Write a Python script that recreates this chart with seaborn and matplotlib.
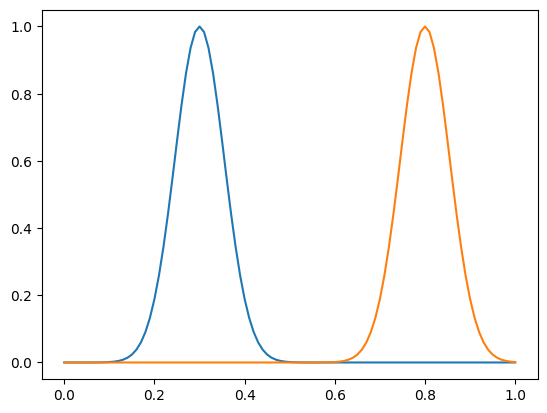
import numpy as np
import matplotlib
matplotlib.use('Agg')
import matplotlib.pyplot as plt
import seaborn as sns

# sample grid, step 0.01
x = np.linspace(0, 1, 101)

# first peak (around 0.3)
peak_a = [0, 0, 0, 0, 0, 0, 0, 0.0001, 0.0003, 0.0006,
          0.0013, 0.0024, 0.0045, 0.0081, 0.0140, 0.0235, 0.0381, 0.0598, 0.0907, 0.1331,
          0.1889, 0.2592, 0.3442, 0.4419, 0.5488, 0.6592, 0.7659, 0.8607, 0.9355, 0.9835,
          1.0, 0.9835, 0.9355, 0.8607, 0.7659, 0.6592, 0.5488, 0.4419, 0.3442, 0.2592,
          0.1889, 0.1331, 0.0907, 0.0598, 0.0381, 0.0235, 0.0140, 0.0081, 0.0045, 0.0024,
          0.0013, 0.0006, 0.0003, 0.0001, 0, 0, 0, 0, 0, 0,
          0, 0, 0, 0, 0, 0, 0, 0, 0, 0,
          0, 0, 0, 0, 0, 0, 0, 0, 0, 0,
          0, 0, 0, 0, 0, 0, 0, 0, 0, 0,
          0, 0, 0, 0, 0, 0, 0, 0, 0, 0,
          0]

# second peak (around 0.8)
peak_b = [0, 0, 0, 0, 0, 0, 0, 0, 0, 0,
          0, 0, 0, 0, 0, 0, 0, 0, 0, 0,
          0, 0, 0, 0, 0, 0, 0, 0, 0, 0,
          0, 0, 0, 0, 0, 0, 0, 0, 0, 0,
          0, 0, 0, 0, 0, 0, 0, 0, 0, 0,
          0, 0, 0, 0, 0, 0, 0, 0.0001, 0.0003, 0.0006,
          0.0013, 0.0024, 0.0045, 0.0081, 0.0140, 0.0235, 0.0381, 0.0598, 0.0907, 0.1331,
          0.1889, 0.2592, 0.3442, 0.4419, 0.5488, 0.6592, 0.7659, 0.8607, 0.9355, 0.9835,
          1.0, 0.9835, 0.9355, 0.8607, 0.7659, 0.6592, 0.5488, 0.4419, 0.3442, 0.2592,
          0.1889, 0.1331, 0.0907, 0.0598, 0.0381, 0.0235, 0.0140, 0.0081, 0.0045, 0.0024,
          0.0013]

fig, ax = plt.subplots(figsize=(6.4, 4.8), dpi=100)
sns.lineplot(x=x, y=peak_a, color='C0', ax=ax)
sns.lineplot(x=x, y=peak_b, color='C1', ax=ax)

plt.savefig('out.png', bbox_inches='tight')
plt.close()
